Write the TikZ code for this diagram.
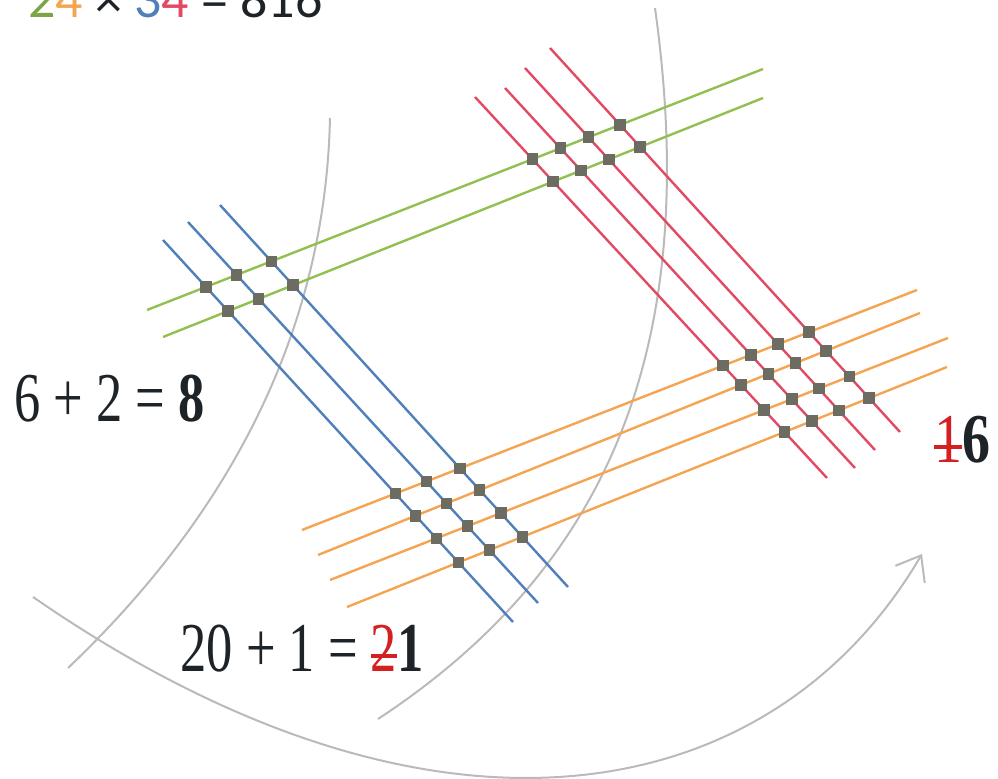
\documentclass[tikz,border=0pt]{standalone}
\usepackage{fontspec}
\usepackage{graphicx}
\usetikzlibrary{arrows.meta}
\newfontfamily\numfont{Liberation Serif}
\newfontfamily\titlefont{Carlito}
\definecolor{lgreen}{HTML}{92C050}
\definecolor{lblue}{HTML}{4F80BA}
\definecolor{lred}{HTML}{E24A64}
\definecolor{lorange}{HTML}{F5A452}
\definecolor{arcgrey}{HTML}{BABABA}
\definecolor{dotgrey}{HTML}{6C6C62}
\definecolor{strk}{HTML}{D42020}
\definecolor{inkdark}{HTML}{1E2328}
\newcommand\struckdigit[1]{\textcolor{strk}{\rlap{\rule[0.2em]{0.5em}{0.05em}}#1}}
\tikzset{
  gline/.style={draw=lgreen, line width=1.2pt},
  bline/.style={draw=lblue, line width=1.2pt},
  rline/.style={draw=lred, line width=1.2pt},
  oline/.style={draw=lorange, line width=1.2pt},
  arcline/.style={draw=arcgrey, line width=1pt},
  dotbox/.style={rectangle, fill=dotgrey, minimum size=5.8pt, inner sep=0pt},
  sumtext/.style={anchor=base west, inner sep=0pt, text=inkdark}
}
\begin{document}
\begin{tikzpicture}[x=0.5pt,y=-0.5pt]
\useasboundingbox (0,0) rectangle (998,779);
\clip (0,0) rectangle (998,779);

% line end points
\coordinate (g1a) at (147,310); \coordinate (g1b) at (763,69);
\coordinate (g2a) at (163,337); \coordinate (g2b) at (763,98);
\coordinate (b1a) at (163,240); \coordinate (b1b) at (513,622);
\coordinate (b2a) at (188,222); \coordinate (b2b) at (538,603);
\coordinate (b3a) at (220,205); \coordinate (b3b) at (568,587);
\coordinate (r1a) at (475,97);  \coordinate (r1b) at (827,478);
\coordinate (r2a) at (505,88);  \coordinate (r2b) at (855,468);
\coordinate (r3a) at (525,68);  \coordinate (r3b) at (875,450);
\coordinate (r4a) at (550,48);  \coordinate (r4b) at (900,432);
\coordinate (o1a) at (302,530); \coordinate (o1b) at (917,290);
\coordinate (o2a) at (318,555); \coordinate (o2b) at (920,313);
\coordinate (o3a) at (330,580); \coordinate (o3b) at (948,338);
\coordinate (o4a) at (347,607); \coordinate (o4b) at (947,367);

% grey arcs
\coordinate (arcAs) at (68,668);  \coordinate (arcAe) at (330,118);
\coordinate (arcBs) at (655,8);   \coordinate (arcBe) at (378,719);
\coordinate (arcCs) at (33,597);  \coordinate (arcCe) at (922,554);
\draw[arcline] (arcAs) .. controls (255,490) and (326,300) .. (arcAe);
\draw[arcline] (arcBs) .. controls (700,330) and (620,560) .. (arcBe);
\draw[arcline, -{Straight Barb[length=11pt,width=17pt]}] (arcCs) .. controls (435,875) and (772,810) .. (arcCe);

% coloured lines
\foreach \i in {1,2} \draw[gline] (g\i a) -- (g\i b);
\foreach \i in {1,2,3} \draw[bline] (b\i a) -- (b\i b);
\foreach \i in {1,2,3,4} \draw[rline] (r\i a) -- (r\i b);
\foreach \i in {1,2,3,4} \draw[oline] (o\i a) -- (o\i b);

% intersection dots
\foreach \i in {1,2} \foreach \j in {1,2,3}
  \node[dotbox] (dgb\i\j) at (intersection of g\i a--g\i b and b\j a--b\j b) {};
\foreach \i in {1,2} \foreach \j in {1,2,3,4}
  \node[dotbox] (dgr\i\j) at (intersection of g\i a--g\i b and r\j a--r\j b) {};
\foreach \i in {1,2,3,4} \foreach \j in {1,2,3}
  \node[dotbox] (dob\i\j) at (intersection of o\i a--o\i b and b\j a--b\j b) {};
\foreach \i in {1,2,3,4} \foreach \j in {1,2,3,4}
  \node[dotbox] (dor\i\j) at (intersection of o\i a--o\i b and r\j a--r\j b) {};

% texts
\node[anchor=base west, inner sep=0pt, text=inkdark] (title) at (28,18)
  {\titlefont\fontsize{27}{30}\selectfont\textcolor{lgreen!85!black}{2}\textcolor{lorange}{4} × \textcolor{lblue}{3}\textcolor{lred}{4} = 816};
\node[sumtext] (sumA) at (14,422)
  {\scalebox{0.75}[1]{\numfont\fontsize{35}{40}\selectfont 6 + 2 = \textbf{8}}};
\node[sumtext] (sumB) at (180,672)
  {\scalebox{0.75}[1]{\numfont\fontsize{35}{40}\selectfont 20 + 1 = \struckdigit{2}\textbf{1}}};
\node[sumtext] (sumC) at (934,463)
  {\scalebox{0.8}[1]{\numfont\fontsize{35}{40}\selectfont \struckdigit{1}\textbf{6}}};
\end{tikzpicture}
\end{document}
